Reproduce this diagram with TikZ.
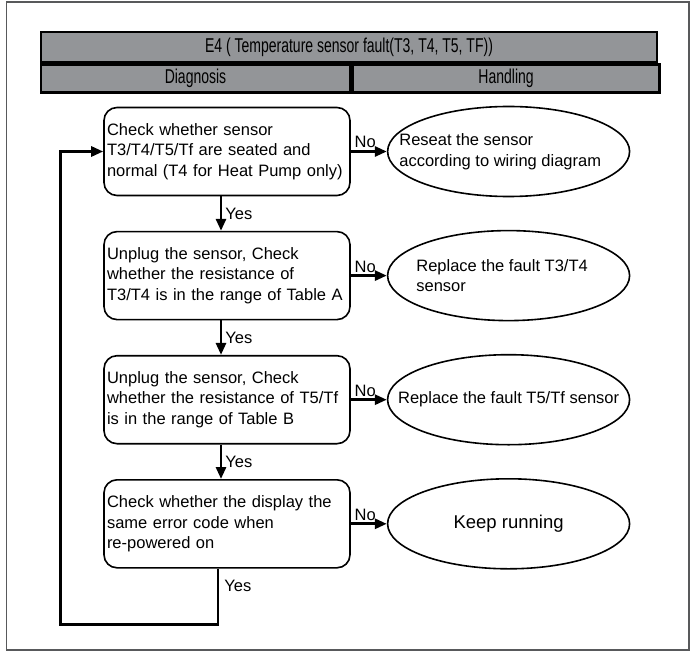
\documentclass[tikz,border=0pt]{standalone}
\usepackage{fontspec}
\setmainfont{Liberation Sans}
\newfontfamily\headfont[FakeStretch=0.7]{Liberation Sans}
\usetikzlibrary{arrows.meta,positioning,shapes.geometric}
\definecolor{hdGray}{HTML}{939598}
\definecolor{frGray}{HTML}{58595B}

\begin{document}
\begin{tikzpicture}[x=1pt,y=-1pt,
  every node/.style={font=\fontsize{16.5}{20.5}\selectfont},
  hdcell/.style={draw,fill=hdGray,line width=2.6pt,inner sep=0pt,
    font=\headfont\fontsize{20}{22}\selectfont},
  stepbox/.style={draw,line width=1.6pt,rounded corners=13pt,minimum width=246pt,
    minimum height=88pt,text width=240pt,align=left,inner xsep=3pt},
  endbox/.style={draw,ellipse,line width=1.6pt,minimum width=242pt,minimum height=90pt},
  flow/.style={line width=2.8pt,-{Triangle[length=12pt,width=10pt]}}]
  \useasboundingbox (0,0) rectangle (692,652);
  \draw[frGray,line width=1.5pt] (6.5,2) rectangle (689,650);
  % header
  \node[hdcell,minimum width=616pt,minimum height=30pt] (title) at (349,47)
    {E4 ( Temperature sensor fault(T3, T4, T5, TF))};
  \node[hdcell,minimum width=309pt,minimum height=28pt,anchor=north west] (diag)
    at (title.south west) {Diagnosis};
  \node[hdcell,minimum width=307pt,minimum height=28pt,anchor=west] (hand)
    at (diag.east) {Handling};
  % diagnosis steps
  \node[stepbox] (b1) at (227,151.5)
    {Check whether sensor\\T3/T4/T5/Tf are seated and\\normal (T4 for Heat Pump only)};
  \node[stepbox,below=34.5pt of b1] (b2)
    {Unplug the sensor, Check\\whether the resistance of\\T3/T4 is in the range of Table A};
  \node[stepbox,below=34.5pt of b2] (b3)
    {Unplug the sensor, Check\\whether the resistance of T5/Tf\\is in the range of Table B};
  \node[stepbox,below=34.5pt of b3] (b4)
    {Check whether the display the\\same error code when\\re-powered on};
  % handling
  \node[endbox,right=36pt of b1] (e1) {};
  \node[endbox,right=36pt of b2] (e2) {};
  \node[endbox,right=36pt of b3] (e3) {};
  \node[endbox,right=36pt of b4] (e4) {};
  \node[align=left,anchor=west] (t1) at ([xshift=9pt]e1.west)
    {Reseat the sensor\\according to wiring diagram};
  \node[align=left,anchor=west] (t2) at ([xshift=26pt]e2.west)
    {Replace the fault T3/T4\\sensor};
  \node (t3) at (e3) {Replace the fault T5/Tf sensor};
  \node[font=\fontsize{18.5}{22}\selectfont] (t4) at (e4) {Keep running};
  % connectors
  \foreach \s/\e in {b1/e1,b2/e2,b3/e3,b4/e4}{
    \draw[flow] (\s) -- node[above,pos=0.4,inner sep=2pt] (no\s) {No} (\e);}
  \foreach \s/\e in {b1/b2,b2/b3,b3/b4}{
    \draw[flow] ([xshift=-6pt]\s.south) -- node[right,inner sep=3pt] (yes\s)
      {Yes} ([xshift=-6pt]\e.north);}
  \coordinate (lpA) at ([xshift=-9pt,yshift=-56pt]b4.south);
  \coordinate (lpB) at ([xshift=-43pt]b1.west);
  \draw[flow] ([xshift=-9pt]b4.south) -- node[right,pos=0.3,inner sep=5pt] (yesb4)
    {Yes} (lpA) -| (lpB) -- (b1.west);
\end{tikzpicture}
\end{document}
